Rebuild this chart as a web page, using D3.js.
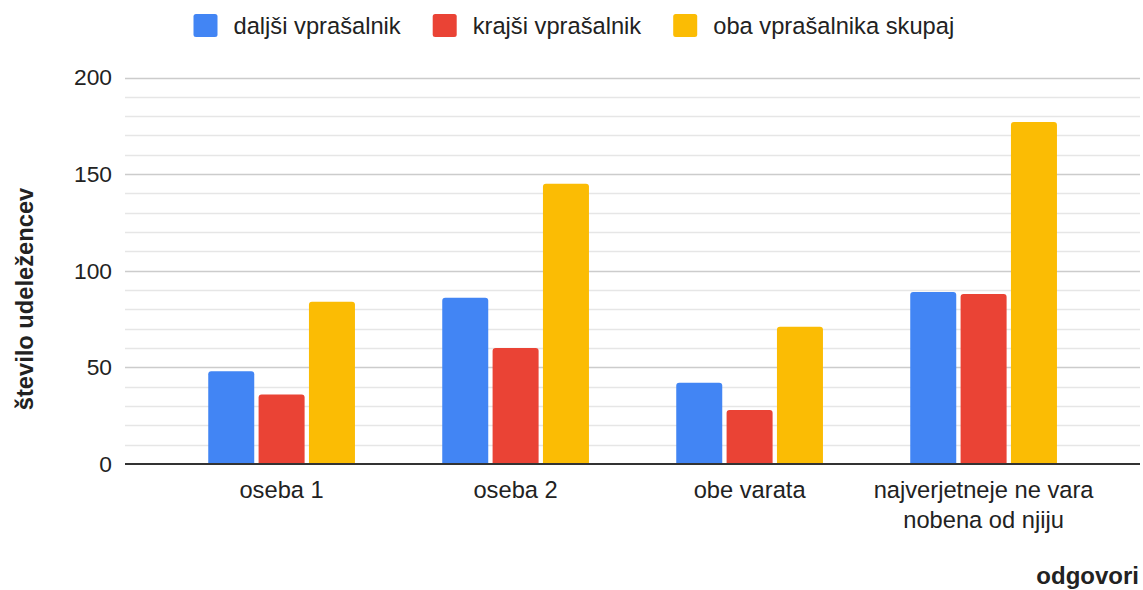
<!DOCTYPE html>
<html>
<head>
<meta charset="utf-8">
<script src="https://cdn.jsdelivr.net/npm/d3@7"></script>
<style>
  html, body { margin: 0; padding: 0; background: #fff; }
  svg { display: block; font-family: "Liberation Sans", Arial, sans-serif; }
</style>
</head>
<body>
<svg id="chart" width="1143" height="590"></svg>
<script>
const categories = [["oseba 1"], ["oseba 2"], ["obe varata"], ["najverjetneje ne vara", "nobena od njiju"]];
const seriesNames = ["daljši vprašalnik", "krajši vprašalnik", "oba vprašalnika skupaj"];
const seriesColors = ["#4285F4", "#EA4335", "#FBBC04"];
const daljsi = [48, 86, 42, 89];
const krajsi = [36, 60, 28, 88];
const oba = [84, 145, 71, 177];
const yTicks = [0, 50, 100, 150, 200];
const yMinorTicks = d3.range(0, 201, 10);
const yTitle = "število udeležencev";
const xTitle = "odgovori";

const seriesValues = [daljsi, krajsi, oba];
const catKeys = categories.map(c => c.join(" "));

const svg = d3.select("#chart");
const FS = 23.7;

const y = d3.scaleLinear().domain([0, 200]).range([464, 77.5]);
const x0 = d3.scaleBand().domain(catKeys).range([164.6, 1100.6]).paddingInner(0.373).paddingOuter(0.1865);
const x1 = d3.scaleBand().domain(seriesNames).range([0, x0.bandwidth()]).paddingInner(0.0864).paddingOuter(0);

const gridLeft = 125, gridRight = 1140;

// minor gridlines
svg.append("g").selectAll("line").data(yMinorTicks.filter(v => v % 50 !== 0)).join("line")
  .attr("x1", gridLeft).attr("x2", gridRight)
  .attr("y1", d => Math.round(y(d)) + 0.5).attr("y2", d => Math.round(y(d)) + 0.5)
  .attr("stroke", "#e6e6e6").attr("stroke-width", 1.5);

// major gridlines
svg.append("g").selectAll("line").data(yTicks.filter(v => v !== 0)).join("line")
  .attr("x1", gridLeft).attr("x2", gridRight)
  .attr("y1", d => Math.round(y(d)) + 0.5).attr("y2", d => Math.round(y(d)) + 0.5)
  .attr("stroke", "#cccccc").attr("stroke-width", 1.5);

// y tick labels
svg.append("g").selectAll("text").data(yTicks).join("text")
  .attr("x", 112).attr("y", d => y(d)).attr("dy", "0.35em")
  .attr("text-anchor", "end").attr("font-size", 22.8).attr("fill", "#222")
  .text(d => d);

// bars
function barPath(x, yTop, w, h, r) {
  r = Math.min(r, h, w / 2);
  return `M${x},${yTop + h}V${yTop + r}Q${x},${yTop} ${x + r},${yTop}H${x + w - r}Q${x + w},${yTop} ${x + w},${yTop + r}V${yTop + h}Z`;
}
const barData = [];
catKeys.forEach((c, i) => {
  seriesNames.forEach((s, j) => {
    barData.push({ cat: c, series: s, value: seriesValues[j][i], color: seriesColors[j] });
  });
});
svg.append("g").selectAll("path").data(barData).join("path")
  .attr("d", d => barPath(x0(d.cat) + x1(d.series), y(d.value), x1.bandwidth(), y(0) - y(d.value), 3))
  .attr("fill", d => d.color);

// baseline
svg.append("line")
  .attr("x1", gridLeft).attr("x2", gridRight)
  .attr("y1", y(0)).attr("y2", y(0))
  .attr("stroke", "#333").attr("stroke-width", 2);

// category labels
const catG = svg.append("g").selectAll("text").data(categories).join("text")
  .attr("text-anchor", "middle").attr("font-size", FS).attr("fill", "#222")
  .attr("x", (d, i) => x0(catKeys[i]) + x0.bandwidth() / 2)
  .attr("y", 498);
catG.selectAll("tspan").data(d => d).join("tspan")
  .attr("x", function() { return d3.select(this.parentNode).attr("x"); })
  .attr("dy", (d, i) => i === 0 ? 0 : 30)
  .text(d => d);

// y title
svg.append("text")
  .attr("transform", "translate(33,299) rotate(-90)")
  .attr("text-anchor", "middle").attr("font-size", FS).attr("font-weight", "bold").attr("fill", "#222")
  .text(yTitle);

// x title
svg.append("text")
  .attr("x", 1139).attr("y", 584)
  .attr("text-anchor", "end").attr("font-size", 24).attr("font-weight", "bold").attr("fill", "#222")
  .text(xTitle);

// legend
const legend = svg.append("g");
let lx = 193.5;
seriesNames.forEach((s, j) => {
  legend.append("rect").attr("x", lx).attr("y", 14).attr("width", 24).attr("height", 23).attr("rx", 2.5)
    .attr("fill", seriesColors[j]);
  const t = legend.append("text").attr("x", lx + 40).attr("y", 34)
    .attr("font-size", FS).attr("fill", "#222").text(s);
  lx = lx + 40 + t.node().getComputedTextLength() + 32;
});
</script>
</body>
</html>
